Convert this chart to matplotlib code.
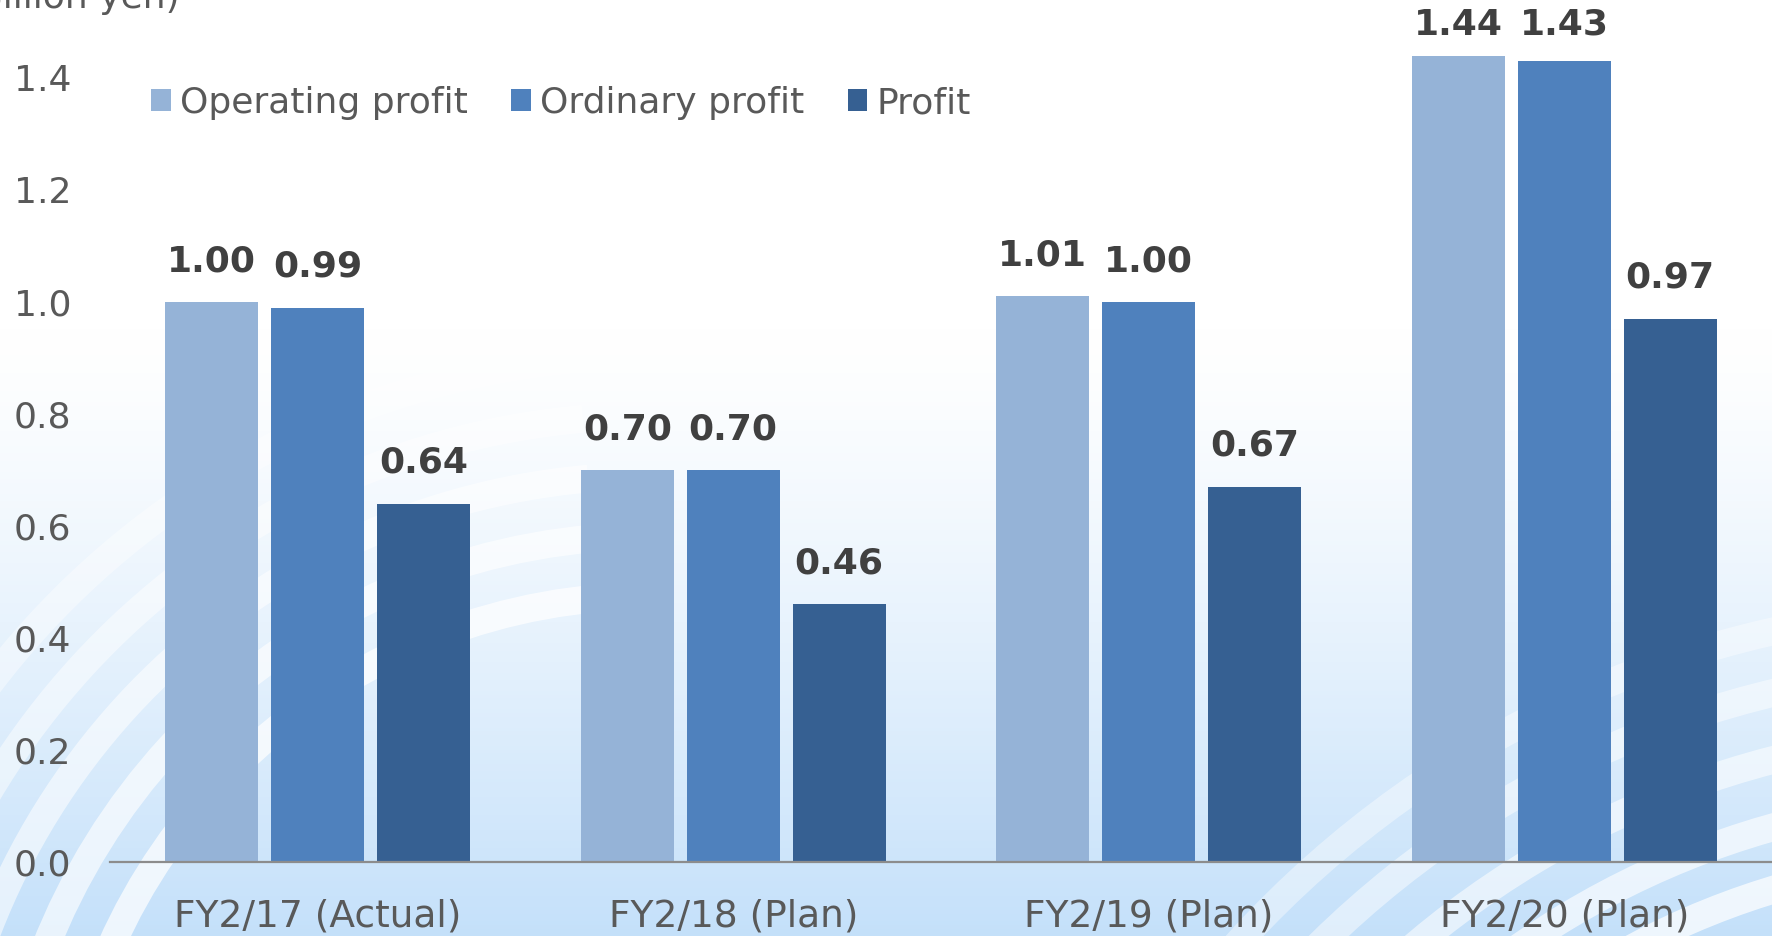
import numpy as np
import matplotlib
matplotlib.use("Agg")
import matplotlib.pyplot as plt
from matplotlib.patches import Patch, Arc

categories = ["FY2/17 (Actual)", "FY2/18 (Plan)", "FY2/19 (Plan)", "FY2/20 (Plan)"]
operating_profit = [1.00, 0.70, 1.01, 1.44]
ordinary_profit = [0.99, 0.70, 1.00, 1.43]
profit = [0.64, 0.46, 0.67, 0.97]
series_names = ["Operating profit", "Ordinary profit", "Profit"]
colors = ["#95b3d7", "#4f81bd", "#366092"]

plt.rcParams["font.family"] = ["DejaVu Sans"]

W, H = 1772, 936
fig = plt.figure(figsize=(W / 100, H / 100), dpi=100)

# background: white fading to light blue, with soft white swirl bands
bg = fig.add_axes([0, 0, 1, 1], zorder=0)
t = np.clip((np.linspace(0, 1, 256) - 0.35) / 0.65, 0, 1) ** 1.3
top = np.array([1.0, 1.0, 1.0])
bottom = np.array([0.77, 0.88, 0.98])
img = top[None, :] * (1 - t[:, None]) + bottom[None, :] * t[:, None]
bg.imshow(img[:, None, :], aspect="auto", extent=[0, W, 0, H], origin="upper")
for k, r in enumerate([830, 770, 710, 650, 590]):
    bg.add_patch(Arc((650, -250), 2 * r, 2 * r, theta1=95, theta2=180,
                     color="white", lw=20, alpha=0.4 + 0.08 * k))
for k, r in enumerate([1030, 970, 905, 840, 780]):
    bg.add_patch(Arc((2000, -700), 2 * r, 2 * r, theta1=97, theta2=145,
                     color="white", lw=20, alpha=0.4 + 0.08 * k))
bg.set_xlim(0, W)
bg.set_ylim(0, H)
bg.axis("off")

ax = fig.add_axes([110 / W, (H - 862) / H, 1 - 110 / W, 862 / H], zorder=1)
ax.patch.set_alpha(0)

x = np.arange(len(categories))
width = 0.224
step = 0.255
ymax = 862 / 560
all_series = [operating_profit, ordinary_profit, profit]
for i, (vals, c) in enumerate(zip(all_series, colors)):
    bars = ax.bar(x + (i - 1) * step, vals, width, color=c, label=series_names[i], zorder=2)
    for b, v in zip(bars, vals):
        # labels sit above the bar, but are kept inside the plot area
        ax.text(b.get_x() + b.get_width() / 2, min(v + 0.073, 1.495), f"{v:.2f}",
                ha="center", va="center", fontsize=26,
                fontweight="bold", color="#404040")

ax.set_xlim(-0.5, 3.5)
ax.set_ylim(0, ymax)
yt = np.arange(0, 1.41, 0.2)
ax.set_yticks(yt)
ax.set_yticklabels([f"{v:.1f}" for v in yt])
ax.set_xticks(x)
ax.set_xticklabels(categories)
ax.tick_params(axis="both", length=0, labelsize=26, labelcolor="#595959")
ax.tick_params(axis="x", labelsize=27, pad=26)
ax.tick_params(axis="y", pad=28)
for side in ["top", "right", "left"]:
    ax.spines[side].set_visible(False)
ax.spines["bottom"].set_color("#8c8c8c")
ax.spines["bottom"].set_linewidth(1.6)

handles = [Patch(facecolor=c) for c in colors]
ax.legend(handles, series_names, ncol=3, loc="center left",
          bbox_to_anchor=(41 / (W - 110), (862 - 103) / 862),
          frameon=False, fontsize=26, labelcolor="#595959",
          handlelength=0.55, handleheight=0.55, handletextpad=0.25,
          columnspacing=1.2, borderaxespad=0, borderpad=0)

fig.text(180 / W, 1 - 8 / H, "(Billion yen)", ha="right", va="baseline",
         fontsize=26, color="#595959")

fig.savefig("out.png", dpi=100)
